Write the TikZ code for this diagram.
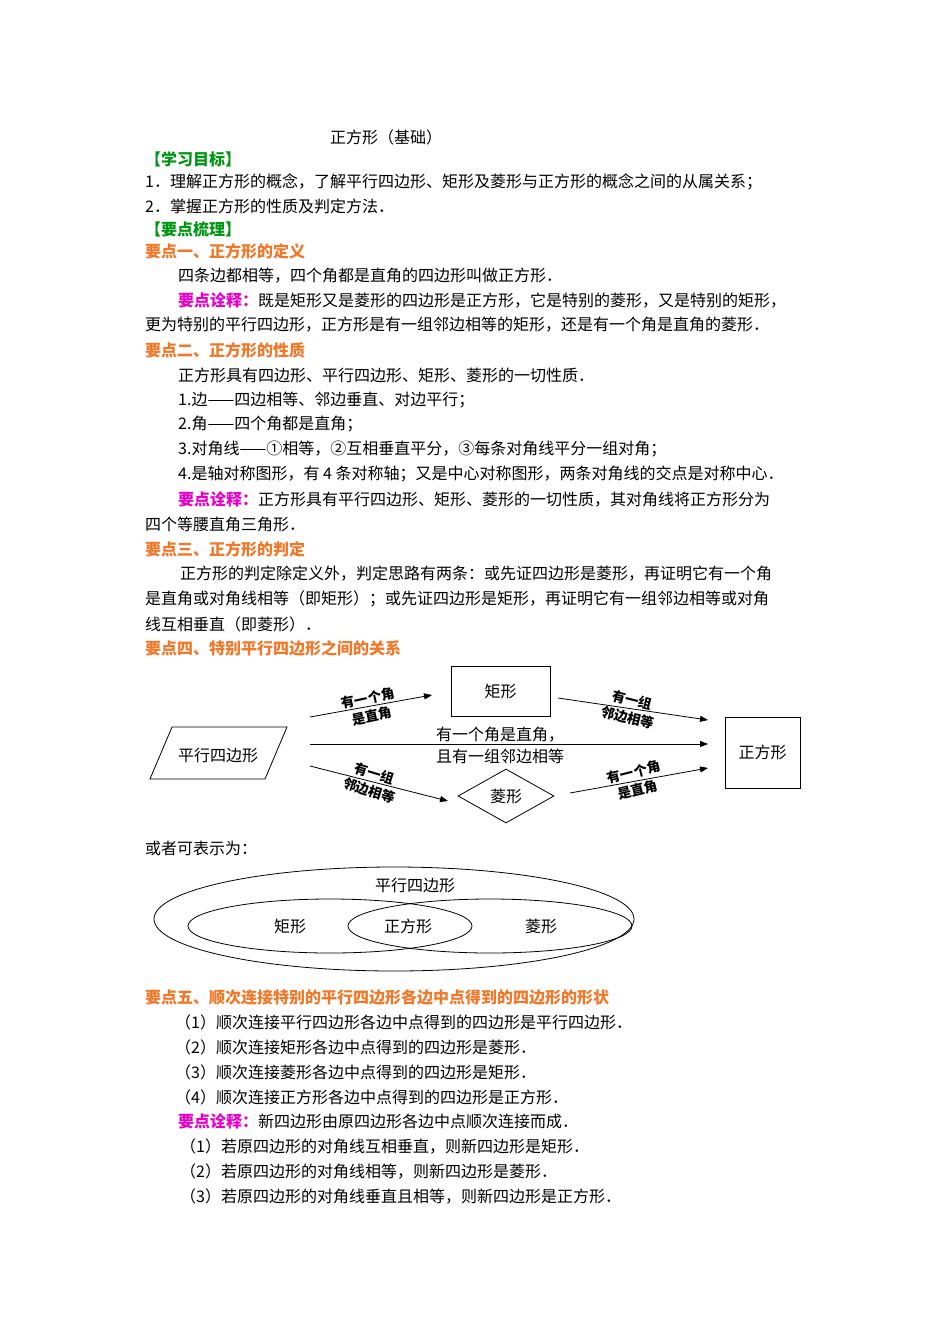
\documentclass[tikz,border=0pt]{standalone}
\usepackage{fontspec}
\setmainfont{Noto Sans CJK SC}
\usetikzlibrary{shapes.geometric,arrows.meta}
\definecolor{hgreen}{RGB}{0,150,20}
\definecolor{horange}{RGB}{240,120,40}
\definecolor{hmag}{RGB}{230,0,200}
\newcommand{\magtxt}[1]{\textcolor{hmag}{\bfseries #1}}
\begin{document}
\begin{tikzpicture}[x=1pt,y=-1pt,
  t/.style={anchor=west,inner sep=0pt,font=\fontsize{16}{18}\selectfont},
  hg/.style={t,text=hgreen,font=\fontsize{16}{18}\selectfont\bfseries},
  ho/.style={t,text=horange,font=\fontsize{16}{18}\selectfont\bfseries},
  lab/.style={font=\fontsize{13.5}{18}\selectfont\bfseries,align=center,inner sep=1pt},
  arr/.style={-{Triangle[length=8pt,width=6pt]},line width=0.8pt},
  box/.style={draw,line width=0.8pt,font=\fontsize{16}{18}\selectfont}]
\useasboundingbox (0,0) rectangle (950,1344);
\fill[white] (0,0) rectangle (950,1344);
\node[t] (l0) at (330,137) {正方形（基础）};
\node[hg] (l1) at (145,159) {【学习目标】};
\node[t] (l2) at (145,182) {1．理解正方形的概念，了解平行四边形、矩形及菱形与正方形的概念之间的从属关系；};
\node[t] (l3) at (145,206) {2．掌握正方形的性质及判定方法．};
\node[hg] (l4) at (145,229) {【要点梳理】};
\node[ho] (l5) at (145,251) {要点一、正方形的定义};
\node[t] (l6) at (178,276) {四条边都相等，四个角都是直角的四边形叫做正方形．};
\node[t] (l7) at (178,300) {\magtxt{要点诠释：}既是矩形又是菱形的四边形是正方形，它是特别的菱形，又是特别的矩形，};
\node[t] (l8) at (145,325) {更为特别的平行四边形，正方形是有一组邻边相等的矩形，还是有一个角是直角的菱形．};
\node[ho] (l9) at (145,350) {要点二、正方形的性质};
\node[t] (l10) at (178,375) {正方形具有四边形、平行四边形、矩形、菱形的一切性质．};
\node[t] (l11) at (178,400) {1.边——四边相等、邻边垂直、对边平行；};
\node[t] (l12) at (178,424) {2.角——四个角都是直角；};
\node[t] (l13) at (178,449) {3.对角线——①相等，②互相垂直平分，③每条对角线平分一组对角；};
\node[t] (l14) at (178,474) {4.是轴对称图形，有 4 条对称轴；又是中心对称图形，两条对角线的交点是对称中心．};
\node[t] (l15) at (178,499) {\magtxt{要点诠释：}正方形具有平行四边形、矩形、菱形的一切性质，其对角线将正方形分为};
\node[t] (l16) at (145,524) {四个等腰直角三角形．};
\node[ho] (l17) at (145,549) {要点三、正方形的判定};
\node[t] (l18) at (180,574) {正方形的判定除定义外，判定思路有两条：或先证四边形是菱形，再证明它有一个角};
\node[t] (l19) at (145,599) {是直角或对角线相等（即矩形）；或先证四边形是矩形，再证明它有一组邻边相等或对角};
\node[t] (l20) at (145,624) {线互相垂直（即菱形）．};
\node[ho] (l21) at (145,648) {要点四、特别平行四边形之间的关系};
% diagram
\node[box,minimum width=99pt,minimum height=50pt] (rect) at (500.5,691) {矩形};
\node[box,minimum width=75pt,minimum height=71pt] (sq) at (762.5,752.5) {正方形};
\draw[line width=0.8pt] (172,727) -- (287,727) -- (265,779) -- (150,779) -- cycle;
\node[font=\fontsize{16}{18}\selectfont] (para) at (218,755) {平行四边形};
\node[box,diamond,minimum width=96pt,minimum height=54pt,inner sep=0pt,aspect=1.8] (rh) at (506,796) {菱形};
\coordinate (a1) at (310,717); \coordinate (a2) at (432,695);
\coordinate (b1) at (558,698); \coordinate (b2) at (708,720);
\coordinate (c1) at (310,744); \coordinate (c2) at (708,744);
\coordinate (d1) at (310,766); \coordinate (d2) at (448,801);
\coordinate (e1) at (570,793); \coordinate (e2) at (708,768);
\draw[arr] (a1) -- (a2);
\draw[arr] (b1) -- (b2);
\draw[arr] (c1) -- (c2);
\draw[arr] (d1) -- (d2);
\draw[arr] (e1) -- (e2);
\node[lab,rotate=12] (la) at (370,707) {有一个角\\是直角};
\node[lab,rotate=-14] (lb) at (630,709) {有一组\\邻边相等};
\node[lab,font=\fontsize{16}{22}\selectfont,align=center] (lc) at (500,745) {有一个角是直角，\\且有一组邻边相等};
\node[lab,rotate=-17] (ld) at (372,782) {有一组\\邻边相等};
\node[lab,rotate=14] (le) at (636,781) {有一个角\\是直角};
% Venn
\node[t] (l22) at (145,848) {或者可表示为：};
\draw[line width=0.8pt] (394,919) ellipse (240 and 52);
\draw[line width=0.8pt] (330,926) ellipse (142 and 27);
\draw[line width=0.8pt] (490,926) ellipse (142 and 27);
\node[font=\fontsize{16}{18}\selectfont] (v1) at (415,885) {平行四边形};
\node[font=\fontsize{16}{18}\selectfont] (v2) at (290,926) {矩形};
\node[font=\fontsize{16}{18}\selectfont] (v3) at (408,926) {正方形};
\node[font=\fontsize{16}{18}\selectfont] (v4) at (541,926) {菱形};
\node[ho] (l23) at (145,997) {要点五、顺次连接特别的平行四边形各边中点得到的四边形的形状};
\node[t] (l24) at (175,1022) {（1）顺次连接平行四边形各边中点得到的四边形是平行四边形．};
\node[t] (l25) at (175,1047) {（2）顺次连接矩形各边中点得到的四边形是菱形．};
\node[t] (l26) at (175,1072) {（3）顺次连接菱形各边中点得到的四边形是矩形．};
\node[t] (l27) at (175,1097) {（4）顺次连接正方形各边中点得到的四边形是正方形．};
\node[t] (l28) at (178,1121) {\magtxt{要点诠释：}新四边形由原四边形各边中点顺次连接而成．};
\node[t] (l29) at (180,1146) {（1）若原四边形的对角线互相垂直，则新四边形是矩形．};
\node[t] (l30) at (180,1171) {（2）若原四边形的对角线相等，则新四边形是菱形．};
\node[t] (l31) at (180,1196) {（3）若原四边形的对角线垂直且相等，则新四边形是正方形．};
\end{tikzpicture}
\end{document}
